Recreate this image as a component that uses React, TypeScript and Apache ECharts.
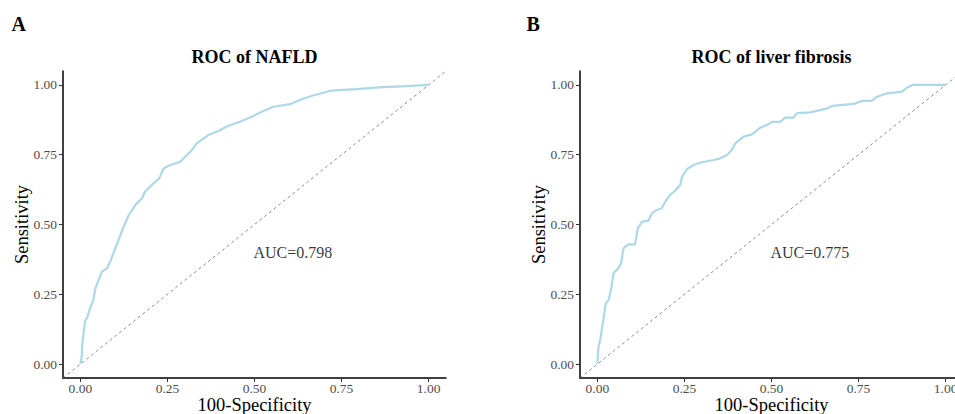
import React, { useEffect, useRef } from "react";
import * as echarts from "echarts";

// NAFLD ROC curve (false positive rate, true positive rate)
const nafldFpr = [0, 0.004, 0.005, 0.010, 0.014, 0.019, 0.029, 0.036, 0.043, 0.052, 0.062, 0.076, 0.086, 0.091, 0.100, 0.113, 0.124, 0.139, 0.158, 0.177, 0.186, 0.205, 0.227, 0.239, 0.258, 0.287, 0.301, 0.320, 0.334, 0.368, 0.396, 0.425, 0.458, 0.487, 0.521, 0.554, 0.602, 0.635, 0.668, 0.721, 0.793, 0.869, 0.936, 1];
const nafldTpr = [0, 0.030, 0.068, 0.120, 0.158, 0.164, 0.205, 0.223, 0.271, 0.301, 0.331, 0.343, 0.367, 0.385, 0.415, 0.456, 0.492, 0.534, 0.570, 0.594, 0.618, 0.642, 0.666, 0.701, 0.713, 0.725, 0.743, 0.767, 0.791, 0.821, 0.835, 0.854, 0.868, 0.883, 0.904, 0.922, 0.931, 0.949, 0.962, 0.980, 0.985, 0.992, 0.996, 1];

// Liver fibrosis ROC curve
const fibFpr = [0, 0.003, 0.008, 0.013, 0.017, 0.024, 0.032, 0.039, 0.046, 0.060, 0.068, 0.075, 0.089, 0.108, 0.116, 0.128, 0.147, 0.156, 0.166, 0.185, 0.195, 0.209, 0.223, 0.238, 0.243, 0.257, 0.276, 0.300, 0.333, 0.348, 0.372, 0.386, 0.396, 0.420, 0.444, 0.468, 0.491, 0.501, 0.525, 0.539, 0.563, 0.573, 0.611, 0.640, 0.659, 0.674, 0.697, 0.736, 0.760, 0.788, 0.803, 0.832, 0.875, 0.889, 0.905, 1];
const fibTpr = [0, 0.062, 0.086, 0.128, 0.158, 0.218, 0.229, 0.265, 0.325, 0.343, 0.361, 0.415, 0.429, 0.429, 0.486, 0.510, 0.514, 0.540, 0.549, 0.558, 0.582, 0.606, 0.621, 0.642, 0.671, 0.698, 0.713, 0.723, 0.731, 0.735, 0.749, 0.767, 0.791, 0.815, 0.823, 0.847, 0.859, 0.868, 0.868, 0.883, 0.883, 0.899, 0.902, 0.910, 0.916, 0.925, 0.928, 0.932, 0.943, 0.943, 0.958, 0.970, 0.976, 0.990, 1, 1];

const panelLetters = ["A", "B"];
const panelTitles = ["ROC of NAFLD", "ROC of liver fibrosis"];
const aucLabels = ["AUC=0.798", "AUC=0.775"];
const aucPos = [0.61, 0.4];
const tickValues = [0, 0.25, 0.5, 0.75, 1];
const diagonal = [-0.05, 1.05];
const xName = "100-Specificity";
const yName = "Sensitivity";

const FONT = '"Liberation Serif", "Times New Roman", serif';

export default function App() {
  const ref = useRef<HTMLDivElement>(null);
  useEffect(() => {
    const chart = echarts.init(ref.current!, null, { renderer: "svg" });
    const grids = [
      { left: 63, top: 71, width: 383, height: 307 },
      { left: 580, top: 71, width: 383, height: 307 },
    ];
    const makeX = (i: number) => ({
      type: "value",
      gridIndex: i,
      min: -0.05,
      max: 1.05,
      name: xName,
      nameLocation: "middle",
      nameGap: 17,
      nameMoveOverlap: false,
      nameTextStyle: { fontFamily: FONT, fontSize: 18.5, color: "#000" },
      axisLine: { show: true, onZero: false, lineStyle: { color: "#000", width: 1.5 } },
      axisTick: { show: true, length: 4, customValues: tickValues, lineStyle: { color: "#333", width: 1 } },
      axisLabel: {
        show: true,
        customValues: tickValues,
        margin: 3,
        fontFamily: FONT,
        fontSize: 13.5,
        color: "#4D4D4D",
        formatter: (v: number) => v.toFixed(2),
      },
      splitLine: { show: false },
    });
    const makeY = (i: number) => ({
      type: "value",
      gridIndex: i,
      min: -0.05,
      max: 1.05,
      name: yName,
      nameLocation: "middle",
      nameGap: 32,
      nameRotate: 90,
      nameMoveOverlap: false,
      nameTextStyle: { fontFamily: FONT, fontSize: 18.5, color: "#000" },
      axisLine: { show: true, onZero: false, lineStyle: { color: "#000", width: 1.5 } },
      axisTick: { show: true, length: 4, customValues: tickValues, lineStyle: { color: "#333", width: 1 } },
      axisLabel: {
        show: true,
        customValues: tickValues,
        margin: 6,
        fontFamily: FONT,
        fontSize: 13.5,
        color: "#4D4D4D",
        formatter: (v: number) => v.toFixed(2),
      },
      splitLine: { show: false },
    });
    const curves = [
      nafldFpr.map((x, k) => [x, nafldTpr[k]]),
      fibFpr.map((x, k) => [x, fibTpr[k]]),
    ];
    const series: any[] = [];
    [0, 1].forEach((i) => {
      series.push({
        type: "line",
        xAxisIndex: i,
        yAxisIndex: i,
        data: diagonal.map((v) => [v, v]),
        symbol: "none",
        silent: true,
        lineStyle: { color: "#7F7F7F", width: 0.9, type: [3, 3] },
      });
      series.push({
        type: "line",
        xAxisIndex: i,
        yAxisIndex: i,
        data: curves[i],
        symbol: "none",
        silent: true,
        lineStyle: { color: "#ADD8E6", width: 2.2 },
      });
      series.push({
        type: "scatter",
        xAxisIndex: i,
        yAxisIndex: i,
        data: [aucPos],
        symbolSize: 1,
        itemStyle: { color: "rgba(0,0,0,0)" },
        silent: true,
        label: {
          show: true,
          position: "inside",
          formatter: aucLabels[i],
          fontFamily: FONT,
          fontSize: 16,
          color: "#000",
        },
      });
    });
    const letterX = [11.5, 526.5];
    const titleX = [254.5, 771.5];
    const graphic: any[] = [];
    [0, 1].forEach((i) => {
      graphic.push({
        type: "text",
        x: letterX[i],
        y: 24,
        silent: true,
        style: {
          text: panelLetters[i],
          font: `bold 20px ${FONT}`,
          fill: "#000",
          align: "left",
          verticalAlign: "middle",
        },
      });
      graphic.push({
        type: "text",
        x: titleX[i],
        y: 56.5,
        silent: true,
        style: {
          text: panelTitles[i],
          font: `bold 18px ${FONT}`,
          fill: "#000",
          align: "center",
          verticalAlign: "middle",
        },
      });
    });
    chart.setOption({
      animation: false,
      backgroundColor: "#fff",
      grid: grids.map((g) => ({ ...g, containLabel: false, outerBoundsMode: "none" })),
      xAxis: [makeX(0), makeX(1)],
      yAxis: [makeY(0), makeY(1)],
      series,
      graphic,
    });
    return () => chart.dispose();
  }, []);
  return (
    <div
      ref={ref}
      style={{ position: "absolute", left: 0, top: 0, width: 955, height: 414, overflow: "hidden", background: "#fff" }}
    />
  );
}
